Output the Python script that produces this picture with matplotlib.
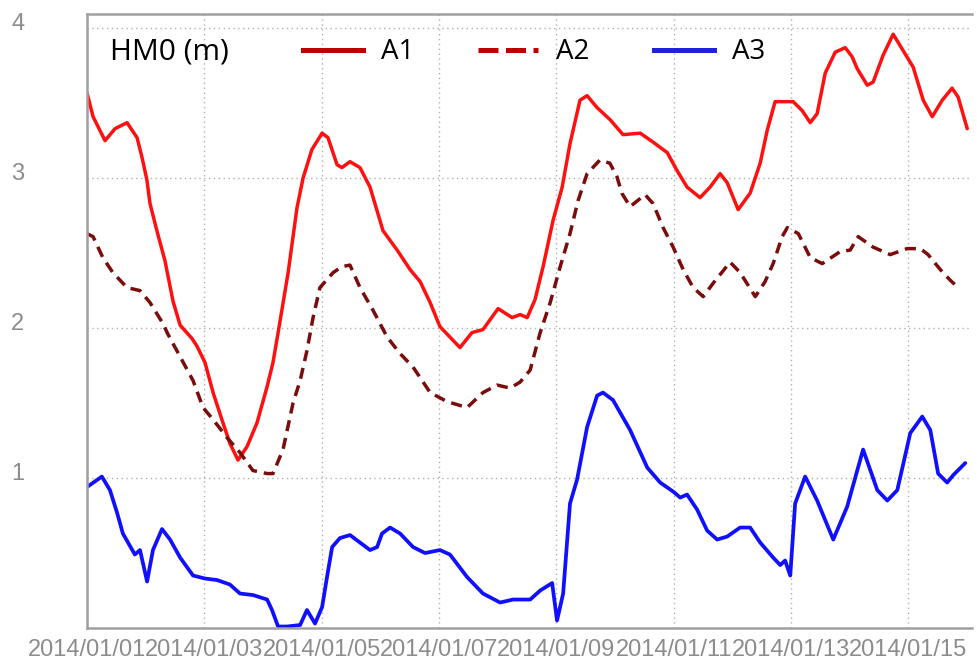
import matplotlib
matplotlib.use("Agg")
import matplotlib.pyplot as plt
import matplotlib.dates as mdates
from matplotlib.lines import Line2D
from matplotlib.transforms import ScaledTranslation
import pandas as pd

# 有义波高 HM0 时间序列（小时偏移, 数值 m）
start = pd.Timestamp("2014-01-01")

a1_hours = [0, 2.5, 7.4, 11.5, 16.4, 20.5, 22.5, 24.5, 25.8, 28.6, 31.9, 35.2, 38.1,
            43.0, 45.0, 48.3, 51.6, 55.2, 58.5, 61.8, 65.5, 69.6, 73.7, 76.1, 78.2,
            82.3, 85.9, 88.4, 92.0, 96.2, 98.6, 102.3, 104.3, 107.6, 111.7, 115.8,
            121.1, 126.9, 132.2, 136.3, 140.4, 144.4, 148.5, 152.6, 157.5, 162.0,
            168.2, 173.9, 177.2, 180.1, 183.3, 186.6, 190.7, 194.4, 197.6, 201.7,
            204.6, 208.7, 214.0, 219.3, 226.3, 231.6, 237.4, 241.4, 245.5, 250.8,
            254.9, 259.0, 261.9, 266.4, 271.3, 275.4, 278.3, 281.5, 288.9, 292.6,
            295.9, 298.7, 302.0, 306.1, 310.2, 313.0, 315.1, 319.2, 321.6, 325.7,
            329.8, 333.9, 338.0, 342.1, 345.8, 349.9, 353.9, 356.4, 360.1]
a1_vals = [3.57, 3.41, 3.25, 3.33, 3.37, 3.27, 3.14, 2.99, 2.83, 2.65, 2.45, 2.18, 2.02,
           1.93, 1.88, 1.77, 1.57, 1.39, 1.23, 1.12, 1.21, 1.37, 1.61, 1.77, 1.97,
           2.37, 2.80, 3.00, 3.19, 3.30, 3.27, 3.09, 3.07, 3.11, 3.07, 2.94,
           2.65, 2.52, 2.39, 2.31, 2.17, 2.01, 1.94, 1.87, 1.97, 1.99,
           2.13, 2.07, 2.09, 2.07, 2.19, 2.41, 2.72, 2.94, 3.23, 3.52,
           3.55, 3.47, 3.39, 3.29, 3.30, 3.24, 3.17, 3.05, 2.94, 2.87,
           2.94, 3.03, 2.97, 2.79, 2.90, 3.10, 3.32, 3.51, 3.51, 3.45,
           3.37, 3.43, 3.70, 3.84, 3.87, 3.81, 3.73, 3.62, 3.64, 3.82,
           3.96, 3.85, 3.74, 3.52, 3.41, 3.52, 3.60, 3.54, 3.33]

a2_hours = [0, 2.5, 6.5, 10.6, 16.4, 21.7, 25.8, 31.1, 33.1, 38.1, 43.4, 47.5, 51.6,
            57.3, 62.6, 67.9, 73.7, 76.1, 80.2, 84.3, 87.2, 90.0, 92.5, 95.3, 100.7,
            104.3, 107.6, 111.7, 117.0, 122.8, 128.1, 133.4, 136.3, 140.4, 147.3,
            155.5, 162.0, 167.8, 173.1, 177.2, 181.3, 185.4, 189.5, 193.6, 197.6,
            200.9, 204.6, 209.8, 213.9, 216.8, 218.8, 222.2, 228.3, 231.6, 235.7,
            239.8, 243.9, 248.0, 252.1, 256.2, 263.1, 267.2, 273.4, 277.4, 280.7,
            284.4, 286.5, 291.0, 295.9, 300.8, 308.1, 312.2, 315.5, 321.6, 328.6,
            335.5, 340.9, 344.1, 349.1, 353.1, 356.4]
a2_vals = [2.63, 2.61, 2.47, 2.37, 2.27, 2.25, 2.17, 2.03, 1.96, 1.81, 1.65, 1.47, 1.39,
           1.27, 1.17, 1.05, 1.03, 1.03, 1.19, 1.50, 1.65, 1.85, 2.07, 2.27, 2.37,
           2.41, 2.42, 2.27, 2.12, 1.94, 1.83, 1.74, 1.67, 1.57, 1.51,
           1.47, 1.57, 1.62, 1.60, 1.64, 1.72, 1.97, 2.17, 2.41, 2.63,
           2.85, 3.03, 3.12, 3.10, 3.01, 2.90, 2.81, 2.89, 2.83, 2.67,
           2.54, 2.39, 2.27, 2.21, 2.30, 2.44, 2.37, 2.21, 2.31, 2.43,
           2.61, 2.67, 2.63, 2.47, 2.43, 2.51, 2.52, 2.61, 2.54, 2.49,
           2.53, 2.53, 2.49, 2.39, 2.32, 2.27]

a3_hours = [0, 6.1, 9.4, 12.3, 14.7, 19.6, 21.7, 24.6, 27.0, 30.7, 34.0, 38.1, 43.4,
            48.3, 53.2, 58.5, 62.6, 67.9, 73.7, 75.7, 78.2, 81.8, 87.2, 90.0, 93.3,
            96.2, 98.2, 100.3, 103.5, 107.6, 111.7, 115.8, 118.7, 120.7, 124.0,
            128.1, 133.4, 138.3, 144.4, 148.5, 155.5, 162.0, 169.0, 174.3, 181.3,
            185.4, 190.3, 192.3, 194.8, 197.6, 200.5, 204.6, 208.7, 211.1, 215.2,
            222.2, 229.2, 234.5, 239.8, 242.7, 245.5, 249.6, 253.7, 257.8, 261.9,
            267.2, 271.3, 275.4, 280.7, 283.6, 285.6, 287.7, 289.7, 293.8, 298.7,
            305.3, 311.0, 317.5, 323.3, 327.4, 331.5, 336.8, 341.7, 345.0, 348.2,
            351.9, 354.4, 359.3]
a3_vals = [0.94, 1.01, 0.92, 0.77, 0.63, 0.49, 0.52, 0.31, 0.52, 0.66, 0.59, 0.47, 0.35,
           0.33, 0.32, 0.29, 0.23, 0.22, 0.19, 0.12, 0.01, 0.01, 0.02, 0.12, 0.03,
           0.14, 0.34, 0.54, 0.60, 0.62, 0.57, 0.52, 0.54, 0.63, 0.67,
           0.63, 0.54, 0.50, 0.52, 0.49, 0.34, 0.23, 0.17, 0.19, 0.19,
           0.25, 0.30, 0.05, 0.23, 0.83, 0.99, 1.34, 1.55, 1.57, 1.52,
           1.32, 1.07, 0.97, 0.91, 0.87, 0.89, 0.79, 0.65, 0.59, 0.61,
           0.67, 0.67, 0.57, 0.47, 0.42, 0.45, 0.35, 0.83, 1.01, 0.85,
           0.59, 0.81, 1.19, 0.92, 0.85, 0.92, 1.30, 1.41, 1.32, 1.03,
           0.97, 1.02, 1.10]


def to_time(hours):
    return start + pd.to_timedelta(hours, unit="h")


grey = "#8c8c8c"
fig = plt.figure(figsize=(9.77, 6.65), dpi=100)
ax = fig.add_axes([0.089, 0.0556, 0.906, 0.923])

line_kw = dict(solid_joinstyle="round", solid_capstyle="round")
ax.plot(to_time(a1_hours), a1_vals, color="#ff1010", lw=2.5, **line_kw)
ax.plot(to_time(a2_hours), a2_vals, color="#7a0c0c", lw=2.5,
        linestyle=(0, (3.2, 2.0)), dash_joinstyle="round")
ax.plot(to_time(a3_hours), a3_vals, color="#1010ff", lw=2.7, **line_kw)

ax.set_xlim(start, start + pd.Timedelta(hours=362.1))
ax.set_ylim(0, 4.093)
ax.set_yticks([1, 2, 3, 4])
ax.xaxis.set_major_locator(mdates.DayLocator(bymonthday=range(1, 32, 2)))
ax.xaxis.set_major_formatter(mdates.DateFormatter("%Y/%m/%d"))

ax.grid(True, color="#b0b0b0", linestyle=(0, (1, 2.5)), lw=1.0)
ax.tick_params(axis="both", length=0, labelsize=17, labelcolor=grey)
ax.tick_params(axis="x", pad=8)
ax.tick_params(axis="y", pad=45)
for lbl in ax.get_xticklabels() + ax.get_yticklabels():
    lbl.set_fontfamily("Liberation Sans")
for lbl in ax.get_yticklabels():
    lbl.set_transform(lbl.get_transform() + ScaledTranslation(0, 0.07, fig.dpi_scale_trans))

ax.spines["right"].set_visible(False)
for side in ("top", "bottom", "left"):
    ax.spines[side].set_color("#a0a0a0")
    ax.spines[side].set_linewidth(1.8)

ax.text(0.026, 0.938, "HM0 (m)", transform=ax.transAxes, fontsize=21.5,
        family="Open Sans", va="center", ha="left")

handles = [
    Line2D([], [], color="#c00000", lw=3.6),
    Line2D([], [], color="#c00000", lw=3.6, linestyle=(0, (4, 1.5))),
    Line2D([], [], color="#2020e0", lw=3.6),
]
ax.legend(handles, ["A1", "A2", "A3"], ncol=3, loc="center left",
          bbox_to_anchor=(0.244, 0.938), frameon=False, borderpad=0,
          borderaxespad=0, handlelength=2.16, handletextpad=0.65,
          columnspacing=2.3, prop={"family": "Open Sans", "size": 20})

fig.savefig("out.png", dpi=100)
